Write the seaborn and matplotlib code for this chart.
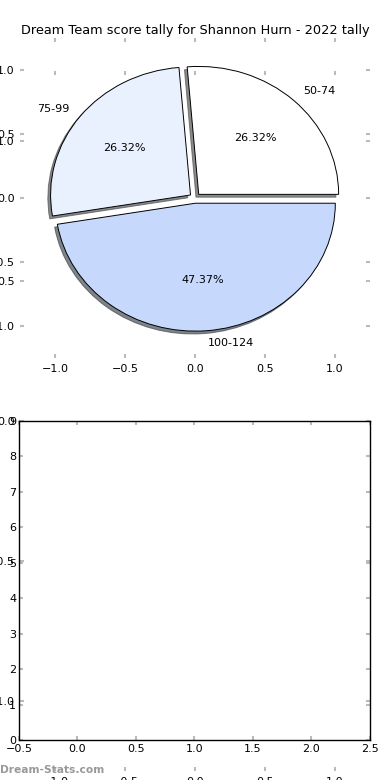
import matplotlib
matplotlib.use("Agg")
import matplotlib.pyplot as plt
import seaborn as sns

# score bands and how many games fell in each (2022)
bands = ["50-74", "75-99", "100-124"]
counts = [5, 5, 9]
colours = ["#ffffff", "#eaf1fe", "#c6d9fd"]
pie_ticks = [-1.0, -0.5, 0.0, 0.5, 1.0]
bar_xticks = [-0.5, 0.0, 0.5, 1.0, 1.5, 2.0, 2.5]
bar_yticks = [0, 1, 2, 3, 4, 5, 6, 7, 8, 9]

sns.set_theme(style="white")
plt.rcParams["font.family"] = ["DejaVu Sans"]
plt.rcParams["text.color"] = "black"
plt.rcParams["xtick.direction"] = "in"
plt.rcParams["ytick.direction"] = "in"


def style_ticks(ax):
    ax.tick_params(axis="both", which="both", colors="#bbbbbb", width=1.5,
                   length=3, labelsize=8, labelcolor="black",
                   top=True, right=True, bottom=True, left=True, pad=4)


fig = plt.figure(figsize=(3.9, 7.8), dpi=100)

# 1. pie of the score tally
ax_pie = fig.add_axes([0.0513, 0.541, 0.897, 0.410])
ax_pie.pie(counts, labels=bands, colors=colours, autopct="%1.2f%%",
           explode=[0.04, 0.04, 0.04],
           shadow={"ox": -0.014, "oy": -0.016, "shade": 0.7, "alpha": 0.65},
           startangle=0,
           wedgeprops={"edgecolor": "black", "linewidth": 0.7},
           textprops={"fontsize": 8, "color": "black"})
ax_pie.set_aspect("auto")
ax_pie.set_frame_on(False)
ax_pie.set_xlim(-1.25, 1.25)
ax_pie.set_ylim(-1.25, 1.25)
ax_pie.set_xticks(pie_ticks)
ax_pie.set_yticks(pie_ticks)
style_ticks(ax_pie)
ax_pie.set_title("Dream Team score tally for Shannon Hurn - 2022 tally",
                 fontsize=9.3, pad=3, color="black")

# 2. empty pie axes left behind underneath
ax_ghost = fig.add_axes([0.0513, 0.0115, 0.897, 0.897])
ax_ghost.set_frame_on(False)
ax_ghost.patch.set_alpha(0)
ax_ghost.set_xlim(-1.25, 1.25)
ax_ghost.set_ylim(-1.25, 1.25)
ax_ghost.set_xticks(pie_ticks)
ax_ghost.set_yticks(pie_ticks)
style_ticks(ax_ghost)

# 3. empty bar axes
ax_bar = fig.add_axes([0.0487, 0.0513, 0.9, 0.409])
sns.barplot(x=[], y=[], ax=ax_bar)
ax_bar.patch.set_alpha(0)
ax_bar.set_xlim(-0.5, 2.5)
ax_bar.set_ylim(0, 9)
ax_bar.set_xticks(bar_xticks)
ax_bar.set_xticklabels([f"{v:.1f}".replace("-", "\u2212") for v in bar_xticks])
ax_bar.set_yticks(bar_yticks)
ax_bar.set_yticklabels([str(v) for v in bar_yticks])
for s in ax_bar.spines.values():
    s.set_visible(True)
    s.set_color("black")
    s.set_linewidth(1.0)
style_ticks(ax_bar)
ax_bar.tick_params(axis="y", pad=2)
ax_bar.tick_params(axis="x", pad=3)

fig.text(0.0, 0.006, "Dream-Stats.com", fontsize=7.7, color="#999999",
         fontweight="bold", ha="left", va="bottom")

fig.savefig("out.png", dpi=100)
